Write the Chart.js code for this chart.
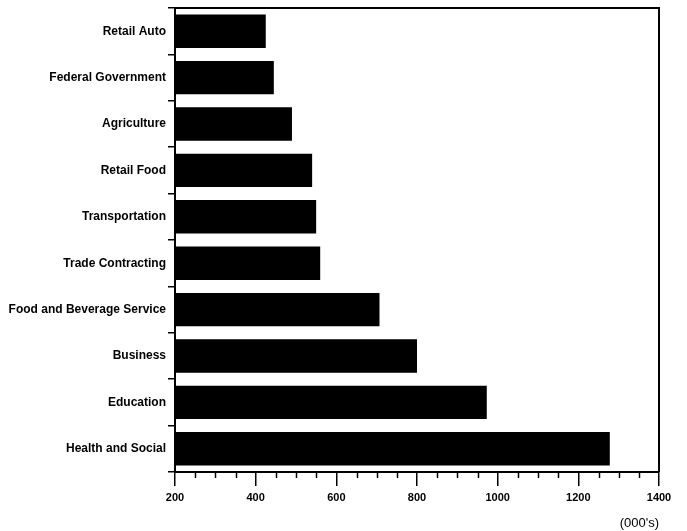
<!DOCTYPE html>
<html>
<head>
<meta charset="utf-8">
<script src="https://cdn.jsdelivr.net/npm/chart.js@4/dist/chart.umd.min.js"></script>
<style>
  html, body { margin: 0; padding: 0; background: #fff; }
  #wrap { width: 687px; height: 531px; }
</style>
</head>
<body>
<div id="wrap"><canvas id="chart" width="687" height="531"></canvas></div>
<script>
const industries = [
  'Retail Auto',
  'Federal Government',
  'Agriculture',
  'Retail Food',
  'Transportation',
  'Trade Contracting',
  'Food and Beverage Service',
  'Business',
  'Education',
  'Health and Social',
];

const employment = [425, 445, 490, 540, 550, 560, 707, 800, 973, 1278];

const xMin = 200;
const xMax = 1400;
const majorStep = 200;
const minorStep = 50;

const labelFont = "'Liberation Sans', Arial, sans-serif";

// top and right frame lines plus the short minor ticks on the value axis
const frameAndMinor = {
  id: 'frameAndMinor',
  afterDraw(chart) {
    const ctx = chart.ctx;
    const area = chart.chartArea;
    const x = chart.scales.x;
    ctx.save();
    ctx.strokeStyle = '#000';
    ctx.lineWidth = 2;
    ctx.beginPath();
    ctx.moveTo(area.left, area.top);
    ctx.lineTo(area.right, area.top);
    ctx.lineTo(area.right, area.bottom);
    ctx.stroke();
    ctx.lineWidth = 1.5;
    for (let v = xMin; v <= xMax; v += minorStep) {
      if (v % majorStep === 0) continue;
      const px = Math.round(x.getPixelForValue(v)) + 0.5;
      ctx.beginPath();
      ctx.moveTo(px, area.bottom);
      ctx.lineTo(px, area.bottom + 6);
      ctx.stroke();
    }
    ctx.restore();
  }
};

const data = {
  labels: industries,
  datasets: [{
    data: employment,
    backgroundColor: '#000',
    borderWidth: 0,
    categoryPercentage: 1,
    barPercentage: 0.72,
  }]
};

const config = {
  type: 'bar',
  data: data,
  plugins: [frameAndMinor],
  options: {
    indexAxis: 'y',
    responsive: false,
    animation: false,
    layout: { padding: { top: 8, right: 28, left: 0, bottom: 0 } },
    plugins: {
      legend: { display: false },
      tooltip: { enabled: false },
    },
    scales: {
      x: {
        type: 'linear',
        min: xMin,
        max: xMax,
        afterFit(scale) { scale.height = 59; },
        ticks: {
          stepSize: majorStep,
          color: '#000',
          padding: 5,
          maxRotation: 0,
          callback: (v) => String(v),
          font: { family: labelFont, size: 11, weight: 'bold' },
        },
        grid: {
          drawOnChartArea: false,
          color: '#000',
          lineWidth: 1.5,
          tickLength: 14,
        },
        border: { color: '#000', width: 2 },
        title: {
          display: true,
          text: "(000's)",
          align: 'end',
          color: '#000',
          padding: { top: 3, bottom: 0 },
          font: { family: labelFont, size: 13 },
        },
      },
      y: {
        afterFit(scale) {
          scale.width = 175;
          scale.paddingTop = 0;
          scale.paddingBottom = 0;
        },
        ticks: {
          color: '#000',
          padding: 2,
          font: { family: labelFont, size: 12, weight: 'bold' },
        },
        grid: {
          drawOnChartArea: false,
          offset: true,
          color: '#000',
          lineWidth: 1.5,
          tickLength: 7,
        },
        border: { color: '#000', width: 2 },
      },
    },
  },
};

new Chart(document.getElementById('chart'), config);
</script>
</body>
</html>
